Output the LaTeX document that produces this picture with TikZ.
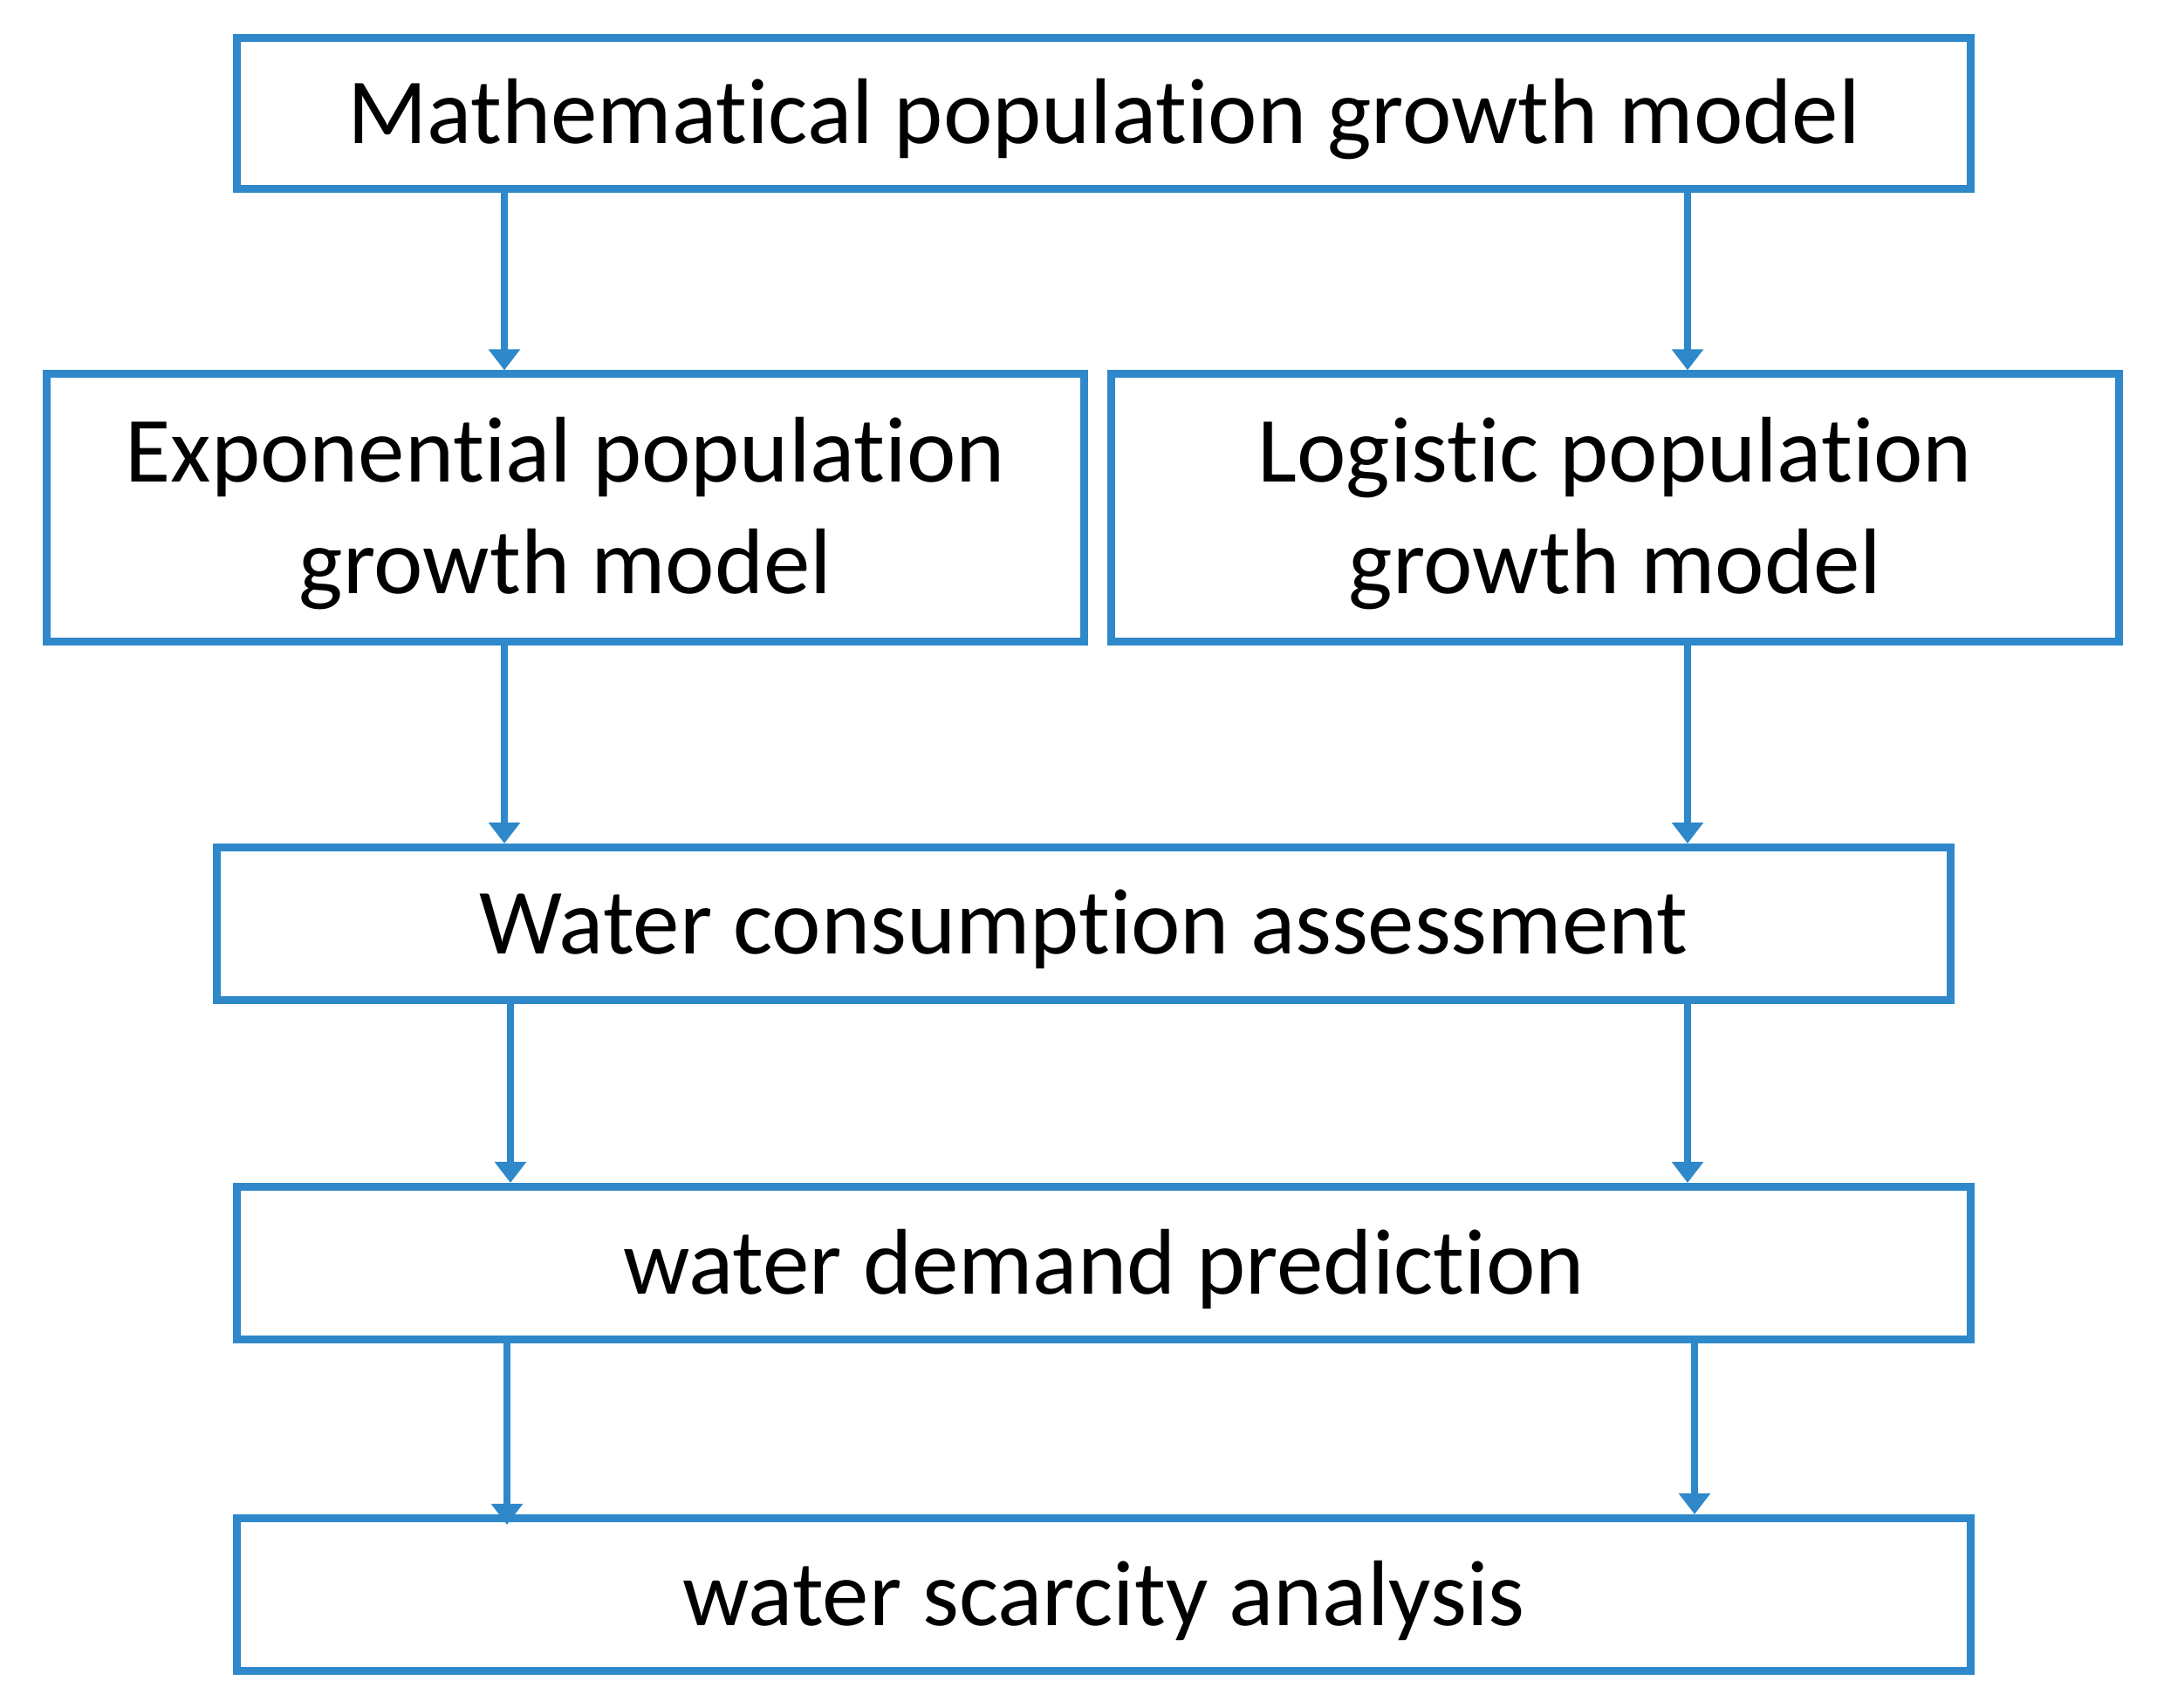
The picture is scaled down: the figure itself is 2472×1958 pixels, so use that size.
\documentclass[tikz,border=0pt]{standalone}
\usepackage{fontspec}
\setmainfont[Ligatures=NoCommon]{Carlito}
\usetikzlibrary{arrows.meta}
\definecolor{flowblue}{RGB}{46,136,202}
\begin{document}
\begin{tikzpicture}[x=0.01cm,y=-0.01cm,
  box/.style={draw=flowblue,line width=0.09cm,rectangle,inner sep=0pt},
  txt/.style={font=\fontsize{30.4}{36.5}\selectfont,text=black,align=center,inner sep=0pt,yshift=-0.065cm},
  flow/.style={draw=flowblue,line width=0.072cm,-{Triangle[width=0.35cm,length=0.24cm]}}]
\useasboundingbox (0,0) rectangle (2472,1958);
\node[box,minimum width=19.85cm,minimum height=1.72cm,label={[txt]center:Mathematical population growth model}] (top) at (1265,130) {};
\node[box,minimum width=11.89cm,minimum height=3.06cm,label={[txt]center:Exponential population\\growth model}] (exp) at (648,582) {};
\node[box,minimum width=11.54cm,minimum height=3.06cm,label={[txt]center:Logistic population\\growth model}] (log) at (1851,582) {};
\node[box,minimum width=19.86cm,minimum height=1.75cm,label={[txt]center:Water consumption assessment}] (wca) at (1242,1059) {};
\node[box,minimum width=19.85cm,minimum height=1.75cm,label={[txt]center:water demand prediction}] (dem) at (1265,1448) {};
\node[box,minimum width=19.85cm,minimum height=1.75cm,label={[txt]center:water scarcity analysis}] (sca) at (1265,1828) {};
\coordinate (a1) at (578,0);
\coordinate (b1) at (1934,0);
\coordinate (a3) at (585,0);
\coordinate (b3) at (1942,0);
\coordinate (a4) at (581,0);
\draw[flow] (top.south -| a1) -- (exp.north -| a1);
\draw[flow] (top.south -| b1) -- (log.north -| b1);
\draw[flow] (exp.south -| a1) -- (wca.north -| a1);
\draw[flow] (log.south -| b1) -- (wca.north -| b1);
\draw[flow] (wca.south -| a3) -- (dem.north -| a3);
\draw[flow] (wca.south -| b1) -- (dem.north -| b1);
\draw[flow] (dem.south -| a4) -- ([yshift=-0.12cm]sca.north -| a4);
\draw[flow] (dem.south -| b3) -- (sca.north -| b3);
\end{tikzpicture}
\end{document}
